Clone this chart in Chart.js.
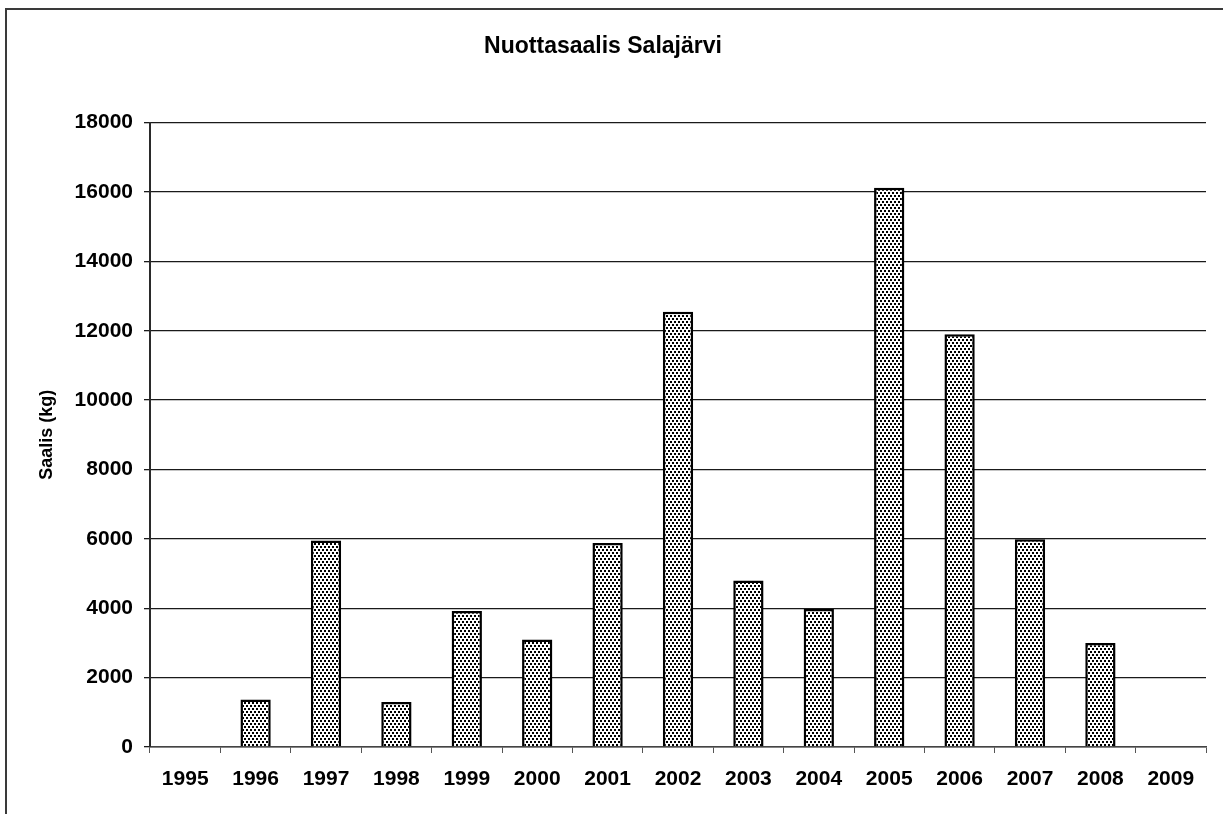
<!DOCTYPE html>
<html>
<head>
<meta charset="utf-8">
<script src="https://cdn.jsdelivr.net/npm/chart.js@4/dist/chart.umd.min.js"></script>
<style>
  html, body { margin: 0; padding: 0; background: #fff; }
  #wrap { position: relative; width: 1223px; height: 814px; overflow: hidden; }
  #frame { position: absolute; left: 5px; top: 8px; right: -4px; bottom: -4px; border-top: 2px solid #3a3a3a; border-left: 2px solid #3a3a3a; }
  canvas { position: absolute; left: 0; top: 0; }
</style>
</head>
<body>
<div id="wrap">
  <div id="frame"></div>
  <canvas id="c" width="1223" height="814"></canvas>
</div>
<script>
const chartTitle = "Nuottasaalis Salajärvi";
const yAxisTitle = "Saalis (kg)";
const years = ["1995","1996","1997","1998","1999","2000","2001","2002","2003","2004","2005","2006","2007","2008","2009"];
const catch_kg = [0, 1370, 5950, 1300, 3920, 3100, 5880, 12550, 4800, 3980, 16120, 11900, 5990, 3000, 0];
const yTicks = [0, 2000, 4000, 6000, 8000, 10000, 12000, 14000, 16000, 18000];

function makePattern() {
  const p = document.createElement('canvas');
  p.width = 8; p.height = 6;
  const g = p.getContext('2d');
  g.fillStyle = '#fff'; g.fillRect(0, 0, 8, 6);
  g.fillStyle = '#000';
  g.fillRect(0, 0, 2, 2);
  g.fillRect(4, 0, 2, 2);
  g.fillRect(2, 3, 2, 2);
  g.fillRect(6, 3, 2, 2);
  return g.createPattern(p, 'repeat');
}

const FONT = "'Liberation Sans', Arial, sans-serif";
const ctx = document.getElementById('c').getContext('2d');
new Chart(ctx, {
  type: 'bar',
  data: {
    labels: years,
    datasets: [{
      data: catch_kg,
      backgroundColor: makePattern(),
      borderColor: '#000',
      borderWidth: 2.5,
      borderSkipped: 'start',
      barPercentage: 0.43,
      categoryPercentage: 1.0
    }]
  },
  options: {
    responsive: false,
    animation: false,
    devicePixelRatio: 1,
    layout: { padding: { left: 0, right: 17, top: 0, bottom: 0 } },
    plugins: {
      legend: { display: false },
      tooltip: { enabled: false },
      title: {
        display: true,
        text: chartTitle,
        color: '#000',
        font: { family: FONT, size: 23, weight: 'bold' },
        padding: { top: 33, bottom: 62 }
      }
    },
    scales: {
      x: {
        afterFit: s => { s.height = 67; },
        grid: { display: true, drawOnChartArea: false, drawTicks: true, tickLength: 6, color: '#555', offset: true },
        border: { display: true, color: '#444', width: 1.5 },
        ticks: { color: '#000', font: { family: FONT, size: 21, weight: 'bold' }, padding: 14, maxRotation: 0, autoSkip: false }
      },
      y: {
        min: 0, max: 18000,
        afterFit: s => { s.width = 150; },
        afterBuildTicks: s => { s.ticks = yTicks.map(v => ({ value: v })); },
        grid: { color: '#1a1a1a', lineWidth: 1.3, tickLength: 6, drawTicks: true },
        border: { display: true, color: '#2a2a2a', width: 2 },
        ticks: { color: '#000', font: { family: FONT, size: 21, weight: 'bold' }, padding: 11, callback: v => String(v) },
        title: {
          display: true, text: yAxisTitle, color: '#000',
          font: { family: FONT, size: 18, weight: 'bold' },
          padding: { top: 36, bottom: 0 }
        }
      }
    }
  }
});
</script>
</body>
</html>
